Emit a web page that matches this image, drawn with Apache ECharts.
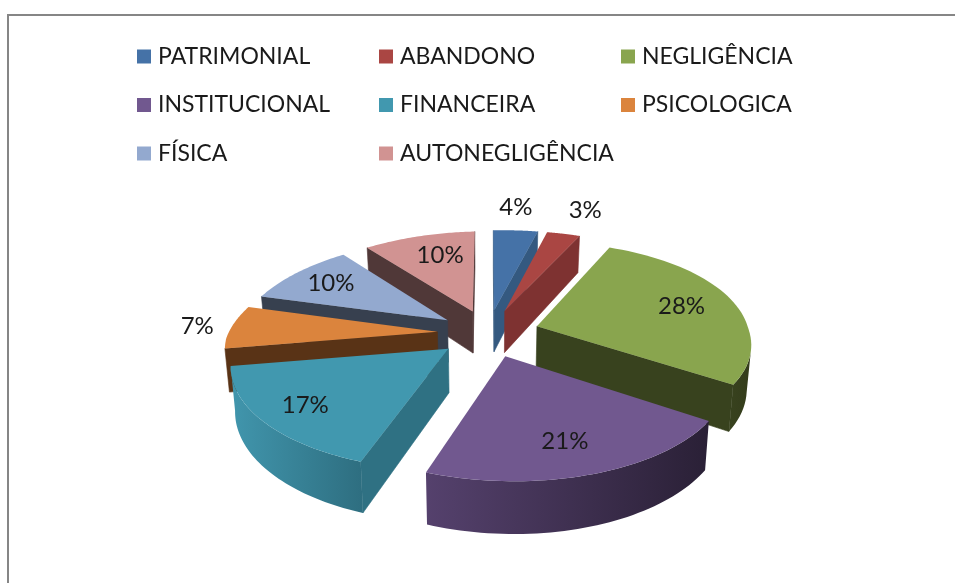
<!DOCTYPE html>
<html>
<head>
<meta charset="utf-8">
<title>Violência</title>
<script src="https://cdn.jsdelivr.net/npm/echarts@6/dist/echarts.min.js"></script>
<style>
  html, body { margin: 0; padding: 0; background: #fff; }
  #chart { width: 955px; height: 583px; }
</style>
</head>
<body>
<div id="chart"></div>
<script>
const categories = ['PATRIMONIAL', 'ABANDONO', 'NEGLIGÊNCIA', 'INSTITUCIONAL', 'FINANCEIRA', 'PSICOLOGICA', 'FÍSICA', 'AUTONEGLIGÊNCIA'];
const values = [4, 3, 28, 21, 17, 7, 10, 10];

const topColors = ['#4572A7', '#AA4643', '#89A54E', '#71588F', '#4198AF', '#DB843D', '#93A9CF', '#D19392'];
const wallColors = ['#345980', '#7E3231', '#38421E', '#4C3A60', '#2F7183', '#593316', '#37404F', '#503838'];
const rimColors = [
  ['#345980', '#345980'], ['#7E3231', '#7E3231'], ['#38421E', '#343C1B'], ['#55416D', '#2A2036'],
  ['#4196AD', '#2E6E80'], ['#593316', '#593316'], ['#37404F', '#37404F'], ['#503838', '#503838']
];
// painter's order, back slices first
const drawOrder = [0, 1, 7, 6, 5, 2, 4, 3];
// label distance from the slice tip, as share of the radius, and small turn in degrees
const labelShare = [1.34, 1.36, 0.74, 0.75, 0.79, 1.17, 0.76, 0.71];
const labelTurn = [-1.5, 1, 0, 1, 0, 0, 0, 3];

// pie projection
const cx = 488, cy = 333;
const radius = 211, explode = 51, squash = 0.465, camera = 1400, depth = 43;
const frontShift = 70, tilt = 0.02, converge = 0.0004;

const total = values.reduce((a, b) => a + b, 0);

function project(x, y, z) {
  const s = camera / (camera - y);
  const sx = x * s + (y > 0 ? frontShift * (s - 1) : 0);
  return [cx + sx * (1 - z * converge), cy + y * squash * s - x * tilt + z * s];
}

function renderSlice(i) {
  return function (params, api) {
    let before = 0;
    for (let k = 0; k < i; k++) before += values[k];
    const a0 = before / total * Math.PI * 2;
    const a1 = (before + api.value(0)) / total * Math.PI * 2;
    const mid = (a0 + a1) / 2;
    const ox = explode * Math.sin(mid), oy = -explode * Math.cos(mid);

    const at = (a, r, z) => project(ox + r * Math.sin(a), oy - r * Math.cos(a), z);
    const steps = 48;
    const arcTop = [], arcBottom = [];
    for (let k = 0; k <= steps; k++) {
      const a = a0 + (a1 - a0) * k / steps;
      arcTop.push(at(a, radius, 0));
      arcBottom.push(at(a, radius, depth));
    }
    const tip = at(0, 0, 0), tipBottom = at(0, 0, depth);
    const first = arcTop[0], last = arcTop[steps];
    const children = [];

    const wallVisible = (p, other) => {
      const vx = p[0] - tip[0], vy = p[1] - tip[1];
      const wx = other[0] - tip[0], wy = other[1] - tip[1];
      return vx * (vx * wy - vy * wx) < 0;
    };
    const poly = (points, fill, stroke) => ({
      type: 'polygon',
      shape: { points: points },
      style: { fill: fill, stroke: stroke || null, lineWidth: 0.6 }
    });

    if (wallVisible(first, last)) {
      children.push(poly([tip, first, arcBottom[0], tipBottom], wallColors[i], wallColors[i]));
    }
    if (wallVisible(last, first)) {
      children.push(poly([tip, last, arcBottom[steps], tipBottom], wallColors[i], wallColors[i]));
    }

    // outer rim, only the part turned towards the viewer
    const rimTop = [], rimBottom = [];
    for (let k = 0; k <= steps; k++) {
      const prev = arcTop[Math.max(k - 1, 0)], next = arcTop[Math.min(k + 1, steps)];
      if (next[0] - prev[0] < 0) {
        rimTop.push(arcTop[k]);
        rimBottom.unshift(arcBottom[k]);
      }
    }
    if (rimTop.length > 1) {
      children.push(poly(rimTop.concat(rimBottom), new echarts.graphic.LinearGradient(0, 0, 1, 0, [
        { offset: 0, color: rimColors[i][0] },
        { offset: 1, color: rimColors[i][1] }
      ])));
    }

    children.push(poly([tip].concat(arcTop), topColors[i]));

    const labelPos = at(mid + labelTurn[i] * Math.PI / 180, radius * labelShare[i], 0);
    children.push({
      type: 'text',
      z2: 100,
      style: {
        x: labelPos[0],
        y: labelPos[1],
        text: Math.round(api.value(0) / total * 100) + '%',
        fill: '#1a1a1a',
        font: '24px Lato',
        align: 'center',
        verticalAlign: 'middle'
      }
    });
    return { type: 'group', children: children };
  };
}

const legendStyle = { color: '#1a1a1a', fontFamily: 'Lato', fontSize: 23, padding: [0, 0, 0, 2] };
function legendColumn(left, names) {
  return {
    orient: 'vertical',
    left: left,
    top: 45,
    padding: 0,
    itemGap: 25.5,
    itemWidth: 14,
    itemHeight: 14,
    icon: 'rect',
    selectedMode: false,
    textStyle: legendStyle,
    data: names
  };
}

const chart = echarts.init(document.getElementById('chart'), null, { renderer: 'canvas' });
chart.setOption({
  animation: false,
  backgroundColor: '#fff',
  legend: [
    legendColumn(137, [categories[0], categories[3], categories[6]]),
    legendColumn(379, [categories[1], categories[4], categories[7]]),
    legendColumn(621, [categories[2], categories[5]])
  ],
  graphic: [{
    type: 'rect',
    silent: true,
    shape: { x: 8, y: 15, width: 1100, height: 800 },
    style: { fill: null, stroke: '#868686', lineWidth: 2 }
  }],
  series: categories.map((name, i) => ({
    type: 'custom',
    name: name,
    coordinateSystem: 'none',
    z: 2 + drawOrder.indexOf(i),
    silent: true,
    itemStyle: { color: topColors[i] },
    renderItem: renderSlice(i),
    data: [[values[i]]]
  }))
});
</script>
</body>
</html>
